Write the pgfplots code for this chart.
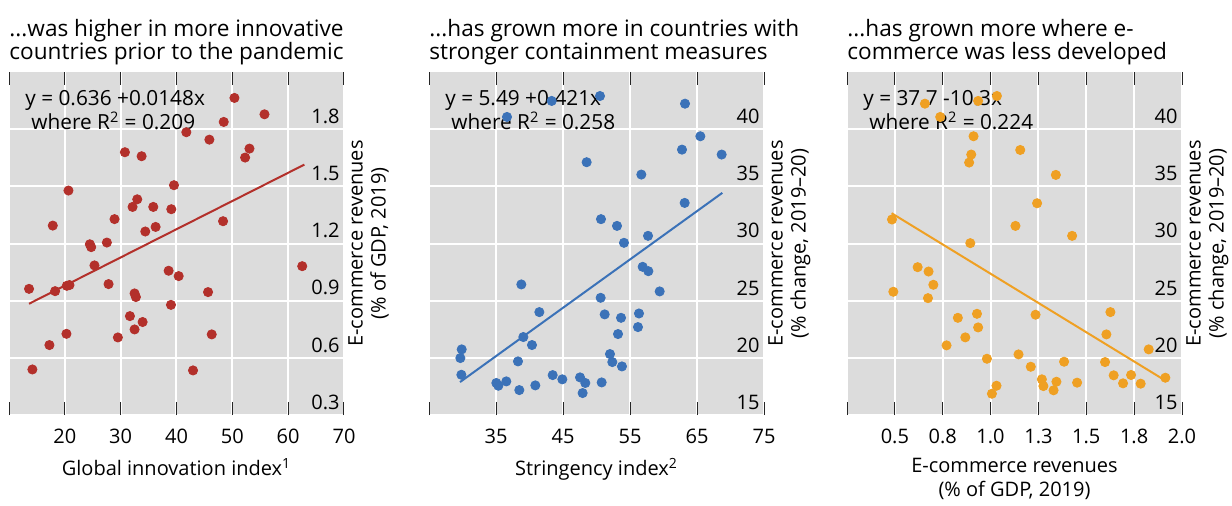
\documentclass[border=0pt]{standalone}
\usepackage{fontspec}
\setmainfont{Open Sans}
\usepackage{pgfplots}
\pgfplotsset{compat=1.18}
\definecolor{bgc}{HTML}{DCDCDC}
\definecolor{cred}{HTML}{B3302B}
\definecolor{cblue}{HTML}{3B72B8}
\definecolor{corange}{HTML}{EFA023}
\pgfplotsset{
  panel/.style={
    scale only axis, width=167.5pt, height=171.5pt,
    axis background/.style={fill=bgc},
    axis line style={draw=none},
    grid=major, major grid style={white, line width=1pt},
    tick align=inside, major tick length=6.5pt,
    xtick style={draw=black!85, line width=0.5pt},
    ytick style={draw=none},
    yticklabel pos=right,
    tick label style={font=\fontsize{10}{12}\selectfont},
    yticklabel style={anchor=south east, inner sep=0.5pt, xshift=-1.5pt, yshift=2pt},
    xticklabel style={yshift=-3.5pt},
    ylabel style={at={(rel axis cs:1,0.5)}, anchor=north, inner sep=2pt, align=center, font=\fontsize{10}{11.5}\selectfont},
    xlabel style={at={(rel axis cs:0.5,0)}, anchor=north, inner sep=0pt, yshift=-21.5pt, align=center, font=\fontsize{10}{11.7}\selectfont},
    title style={at={(rel axis cs:0,1)}, anchor=south west, inner sep=0pt, yshift=-2.9pt, align=left, font=\fontsize{11.3}{11.8}\selectfont},
    clip=false,
  },
  dots/.style={only marks, mark=*, mark size=2.3pt, mark options={draw=#1, fill=#1}},
  fit/.style={no marks, line width=1pt, draw=#1},
}
\newcommand{\eq}[2]{\node[anchor=north west, inner sep=0pt, align=left, font=\fontsize{10.4}{12}\selectfont] at (rel axis cs:0,1) [xshift=8pt, yshift=-9pt] {#1\\\hspace{3pt}where R\textsuperscript{2} = #2};}
\begin{document}
\begin{tikzpicture}
\useasboundingbox (0,0) rectangle (616pt,252.5pt);
% Panel 1
\begin{axis}[panel, at={(4.5pt,45pt)}, anchor=south west,
  xmin=10, xmax=70, ymin=0.3, ymax=2.1,
  xtick={10,20,30,40,50,60,70}, xticklabels={,20,30,40,50,60,70},
  ytick={0.3,0.6,0.9,1.2,1.5,1.8}, yticklabels={0.3,0.6,0.9,1.2,1.5,1.8},
  title={...was higher in more innovative\\countries prior to the pandemic},
  xlabel={Global innovation index\textsuperscript{1}},
  ylabel={E-commerce revenues\\(\% of GDP, 2019)}]
\eq{y = 0.636 +0.0148x}{0.209}
\addplot[fit=cred] coordinates {(13.6,0.884) (62.9,1.614)};
\addplot[dots=cred] coordinates {
(50.38,1.964) (55.76,1.878) (48.46,1.838) (41.76,1.784) (45.89,1.745)
(53.07,1.698) (52.29,1.651) (30.76,1.679) (33.75,1.658) (39.55,1.506)
(20.65,1.478) (32.97,1.432) (32.13,1.392) (35.84,1.392) (39.07,1.380)
(28.90,1.328) (17.84,1.294) (48.34,1.317) (36.26,1.287) (34.41,1.263)
(24.48,1.196) (24.72,1.181) (27.53,1.205) (25.31,1.085) (38.59,1.057)
(40.39,1.029) (62.52,1.081) (13.59,0.962) (18.26,0.950) (20.35,0.978)
(20.83,0.982) (27.83,0.987) (32.49,0.938) (32.73,0.919) (45.65,0.945)
(39.01,0.878) (31.66,0.819) (33.93,0.788) (32.49,0.749) (20.29,0.726)
(29.50,0.707) (46.31,0.723) (17.24,0.667) (14.19,0.539) (42.96,0.534)
};
\end{axis}
% Panel 2
\begin{axis}[panel, at={(214.5pt,45pt)}, anchor=south west,
  xmin=25, xmax=75, ymin=15, ymax=45,
  xtick={25,35,45,55,65,75}, xticklabels={,35,45,55,65,75},
  ytick={15,20,25,30,35,40}, yticklabels={15,20,25,30,35,40},
  title={...has grown more in countries with\\stronger containment measures},
  xlabel={Stringency index\textsuperscript{2}},
  ylabel={E-commerce revenues\\(\% change, 2019–20)}]
\eq{y = 5.49 +0.421x}{0.258}
\addplot[fit=cblue] coordinates {(29.63,17.88) (68.78,34.43)};
\addplot[dots=cblue] coordinates {
(50.52,42.90) (43.31,42.47) (36.64,41.07) (63.21,42.23) (65.50,39.38)
(62.76,38.21) (68.68,37.78) (48.53,37.11) (56.69,36.03) (63.16,33.55)
(50.67,32.13) (53.06,31.54) (57.69,30.67) (54.10,30.06) (56.89,27.96)
(57.74,27.58) (59.43,25.81) (38.78,26.42) (50.62,25.25) (41.47,24.00)
(51.22,23.80) (53.66,23.50) (56.34,23.88) (56.19,22.69) (53.21,22.08)
(39.08,21.82) (40.37,21.12) (29.88,20.74) (29.68,19.98) (52.01,20.33)
(38.28,19.69) (52.36,19.63) (53.80,19.25) (29.83,18.52) (43.46,18.49)
(44.90,18.12) (47.54,18.29) (48.33,17.80) (50.77,17.85) (35.05,17.80)
(35.35,17.56) (36.54,17.94) (40.87,17.59) (38.48,17.18) (47.93,16.92)
};
\end{axis}
% Panel 3
\begin{axis}[panel, at={(423.5pt,45pt)}, anchor=south west,
  xmin=0.25, xmax=2, ymin=15, ymax=45,
  xtick={0.25,0.5,0.75,1,1.25,1.5,1.75,2}, xticklabels={,0.5,0.8,1.0,1.3,1.5,1.8,2.0},
  ytick={15,20,25,30,35,40}, yticklabels={15,20,25,30,35,40},
  title={...has grown more where e-\\commerce was less developed},
  xlabel={E-commerce revenues\\(\% of GDP, 2019)},
  ylabel={E-commerce revenues\\(\% change, 2019–20)}]
\eq{y = 37.7 -10.3x}{0.224}
\addplot[fit=corange] coordinates {(0.483,32.65) (1.917,17.97)};
\addplot[dots=corange] coordinates {
(1.033,42.90) (0.935,42.47) (0.657,42.23) (0.737,41.07) (0.911,39.38)
(0.899,37.78) (0.888,37.08) (1.155,38.18) (1.341,36.00) (1.243,33.52)
(0.485,32.10) (1.130,31.54) (1.426,30.67) (0.894,30.03) (0.619,27.93)
(0.676,27.55) (0.701,26.39) (0.492,25.78) (0.673,25.22) (0.829,23.50)
(0.929,23.85) (0.935,22.66) (1.235,23.77) (1.626,24.00) (0.868,21.79)
(0.770,21.09) (1.605,22.05) (1.826,20.74) (1.146,20.30) (0.981,19.92)
(1.384,19.66) (1.210,19.22) (1.598,19.63) (1.643,18.47) (1.734,18.50)
(1.913,18.26) (1.268,18.12) (1.344,17.91) (1.452,17.83) (1.276,17.53)
(1.692,17.77) (1.784,17.74) (1.329,17.16) (1.031,17.56) (1.007,16.86)
};
\end{axis}
\end{tikzpicture}
\end{document}
